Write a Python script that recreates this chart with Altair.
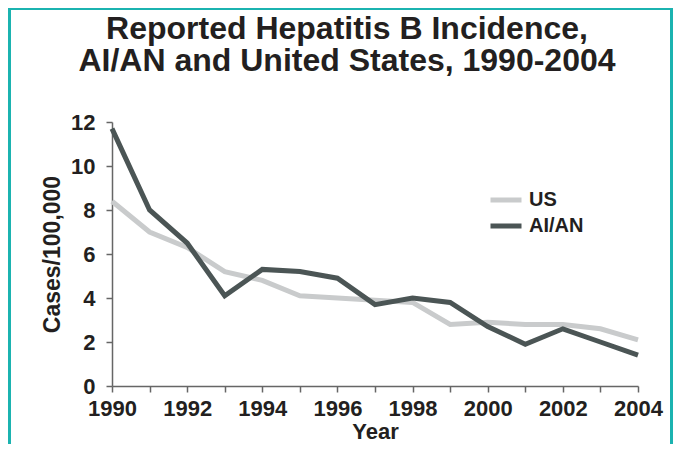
import altair as alt
import pandas as pd

years = list(range(1990, 2005))
us = [8.4, 7.0, 6.3, 5.2, 4.8, 4.1, 4.0, 3.9, 3.8, 2.8, 2.9, 2.8, 2.8, 2.6, 2.1]
aian = [11.7, 8.0, 6.5, 4.1, 5.3, 5.2, 4.9, 3.7, 4.0, 3.8, 2.7, 1.9, 2.6, 2.0, 1.4]
series_names = ["US", "AI/AN"]
series_colors = ["#c9cbcc", "#4b5555"]
title_line1 = "Reported Hepatitis B Incidence,"
title_line2 = "AI/AN and United States, 1990-2004"
y_ticks = [0, 2, 4, 6, 8, 10, 12]

rows = []
for name, vals in zip(series_names, [us, aian]):
    for yr, v in zip(years, vals):
        rows.append({"Year": yr, "Cases": v, "Series": name})
df = pd.DataFrame(rows)

FONT = "Liberation Sans"
TEXT = "#231f20"
TEAL = "#1bb3b0"

lines = alt.Chart(df).mark_line(strokeWidth=5, strokeCap="butt", strokeJoin="miter").encode(
    x=alt.X("Year:Q",
            scale=alt.Scale(domain=[1990, 2004], nice=False, zero=False),
            axis=alt.Axis(values=years, labelExpr="datum.value % 2 == 0 ? datum.value : ''",
                          title="Year", format="d", grid=False)),
    y=alt.Y("Cases:Q",
            scale=alt.Scale(domain=[0, 12], nice=False),
            axis=alt.Axis(values=y_ticks, title="Cases/100,000", grid=False)),
    color=alt.Color("Series:N",
                    scale=alt.Scale(domain=series_names, range=series_colors),
                    legend=alt.Legend(title=None, orient="none", legendX=376, legendY=65,
                                      symbolType="stroke", symbolSize=961, symbolStrokeWidth=5,
                                      clipHeight=26, rowPadding=0, padding=0,
                                      labelOffset=5, labelFontSize=20, labelFont=FONT,
                                      labelFontWeight="bold", labelColor=TEXT)),
    order=alt.Order("Year:Q"),
)

one = pd.DataFrame({"a": [0]})

border = alt.Chart(one).mark_rect(
    filled=False, stroke=TEAL, strokeWidth=3, clip=False
).encode(
    x=alt.value(-102.5), x2=alt.value(559.5), y=alt.value(-113.5), y2=alt.value(420)
)

def title_text(txt, y):
    return alt.Chart(one).mark_text(
        font=FONT, fontSize=32, fontWeight="bold", color=TEXT, align="center",
        baseline="alphabetic", clip=False
    ).encode(x=alt.value(235), y=alt.value(y), text=alt.value(txt))

chart = alt.layer(border, title_text(title_line1, -83), title_text(title_line2, -51), lines).properties(
    width=526, height=264,
    autosize=alt.AutoSizeParams(type="none"),
    padding={"left": 104, "top": 114, "right": 35, "bottom": 58},
).configure_view(stroke=None).configure_axis(
    domainColor="#666666", domainWidth=1.5, tickColor="#666666", tickWidth=1.5,
    tickSize=6, labelFont=FONT, labelFontWeight="bold", labelFontSize=22,
    labelColor=TEXT, titleFont=FONT, titleFontWeight="bold", titleFontSize=23,
    titleColor=TEXT,
).configure_axisY(labelPadding=11, titlePadding=6).configure_axisX(
    labelPadding=6, titlePadding=2, titleFontSize=22, labelFlush=False, labelOverlap=False
)

chart.save("out.html", embed_options={"renderer": "svg", "actions": False})
